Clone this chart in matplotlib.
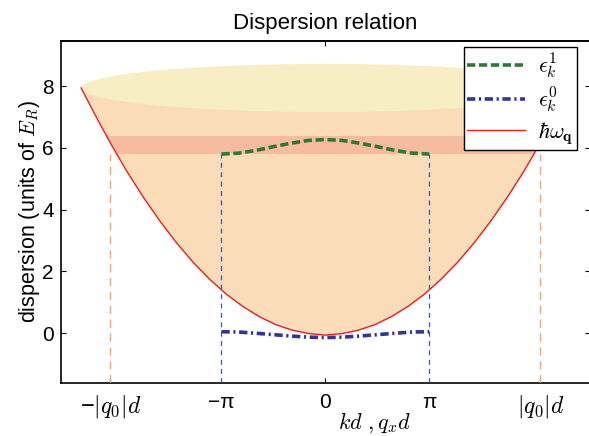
import numpy as np
import matplotlib
matplotlib.use('Agg')
import matplotlib.pyplot as plt
from matplotlib.patches import Ellipse, Polygon

plt.rcParams['font.family'] = ['Liberation Sans', 'DejaVu Sans']
plt.rcParams['mathtext.fontset'] = 'cm'

# ---- data ----
x_omega = [-7.38, -7.0, -6.5, -6.0, -5.5, -5.0, -4.5, -4.0, -3.5, -3.0, -2.5, -2.0, -1.5, -1.0, -0.5, 0.0,
           0.5, 1.0, 1.5, 2.0, 2.5, 3.0, 3.5, 4.0, 4.5, 5.0, 5.5, 6.0, 6.5, 7.0, 7.38]
omega = [7.94, 7.15, 6.16, 5.24, 4.40, 3.63, 2.93, 2.30, 1.75, 1.27, 0.87, 0.54, 0.28, 0.10, -0.01, -0.06,
         -0.01, 0.10, 0.28, 0.54, 0.87, 1.27, 1.75, 2.30, 2.93, 3.63, 4.40, 5.24, 6.16, 7.15, 7.94]

k_band = [-np.pi, -5*np.pi/6, -2*np.pi/3, -np.pi/2, -np.pi/3, -np.pi/6, 0.0,
          np.pi/6, np.pi/3, np.pi/2, 2*np.pi/3, 5*np.pi/6, np.pi]
eps1 = [5.80, 5.83, 5.92, 6.04, 6.15, 6.24, 6.27, 6.24, 6.15, 6.04, 5.92, 5.83, 5.80]
eps0 = [0.05, 0.04, 0.00, -0.045, -0.09, -0.125, -0.14, -0.125, -0.09, -0.045, 0.00, 0.04, 0.05]

q0d = 6.5                    # |q0| d
band_lo, band_hi = 5.79, 6.38  # shaded energy band
rim_halfheight = 0.78        # perspective ellipse of paraboloid rim

tick_pos = [-q0d, -np.pi, 0.0, np.pi, q0d]
tick_labels = ['−$|q_0|d$', '−π', '0', 'π', '$|q_0|d$']
ytick_pos = [0, 2, 4, 6, 8]

# ---- colours ----
peach = '#fadcb9'
salmon = '#f7bba0'
yellow = '#f8eec6'
green = '#2a7a36'
navy = '#33339f'
red = '#ee1d1d'
orange = '#f5a66a'
blue_v = '#3a5aa8'

fig = plt.figure(figsize=(5.89, 4.36), dpi=100)
ax = fig.add_axes([60.7/589, 53/436, (590-60.7)/589, (383-41)/436])
ax.set_xlim(-8, 8)
ax.set_ylim(-1.61, 9.46)

rim = omega[0]
ax.fill_between(x_omega, omega, rim, color=peach, lw=0, zorder=1)

clip_poly = Polygon(np.column_stack([x_omega, omega]), closed=True)
clip_poly.set_transform(ax.transData)
band = ax.axhspan(band_lo, band_hi, color=salmon, lw=0, zorder=1.5)
band.set_clip_path(clip_poly)

ell = Ellipse((0, rim), 2*x_omega[-1], 2*rim_halfheight, facecolor=yellow, edgecolor='none', zorder=2)
ax.add_patch(ell)

ybot = ax.get_ylim()[0]
for xv in (-q0d, q0d):
    ax.plot([xv, xv], [ybot, band_lo], color=orange, lw=1.0, ls=(0, (6, 4)), zorder=3)
for xv, yv in ((k_band[0], eps1[0]), (k_band[-1], eps1[-1])):
    ax.plot([xv, xv], [ybot, yv], color=blue_v, lw=0.9, ls=(0, (4, 3.5)), zorder=3)

l_red, = ax.plot(x_omega, omega, color=red, lw=1.0, zorder=3.5, label=r'$\hbar\omega_{\mathbf{q}}$')
l_g, = ax.plot(k_band, eps1, color=green, lw=2.6, ls=(0, (2.3, 1.0)), zorder=4, label=r'$\epsilon_k^1$')
l_b, = ax.plot(k_band, eps0, color=navy, lw=2.6, ls=(0, (2.3, 1.0, 0.6, 1.0)), zorder=4, label=r'$\epsilon_k^0$')

ax.set_xticks(tick_pos)
ax.set_xticklabels(tick_labels)
ax.set_yticks(ytick_pos)
ax.tick_params(axis='both', direction='in', length=3.5, width=0.8, labelsize=15)
ax.tick_params(axis='y', right=True, pad=5)
ax.tick_params(axis='x', top=False, pad=7)
for lab in ax.get_xticklabels():
    if 'q_0' in lab.get_text():
        lab.set_fontsize(17)
sec = ax.secondary_xaxis('top')
sec.set_xticks([0])
sec.tick_params(direction='in', length=3.5, width=0.8, labeltop=False)
sec.spines['top'].set_linewidth(1.2)
for s in ax.spines.values():
    s.set_linewidth(1.2)

ax.set_title('Dispersion relation', fontsize=16, pad=9)
ax.set_xlabel(r'$kd\ ,q_x d$', fontsize=16, labelpad=-7)
ax.xaxis.label.set_x((375 - 60.7) / 529.3)
ax.set_ylabel(r'dispersion (units of $E_R$)', fontsize=15.5, labelpad=0)

leg = ax.legend(handles=[l_g, l_b, l_red], loc='upper right',
                bbox_to_anchor=(577/589, 1 - 47/436), bbox_transform=fig.transFigure,
                fontsize=16, handlelength=2.6, handletextpad=0.6, fancybox=False, framealpha=1,
                edgecolor='black', borderaxespad=0, labelspacing=0.2, borderpad=0.15)
leg.get_frame().set_linewidth(1.0)
leg.set_zorder(10)

fig.savefig('out.png', dpi=100)
